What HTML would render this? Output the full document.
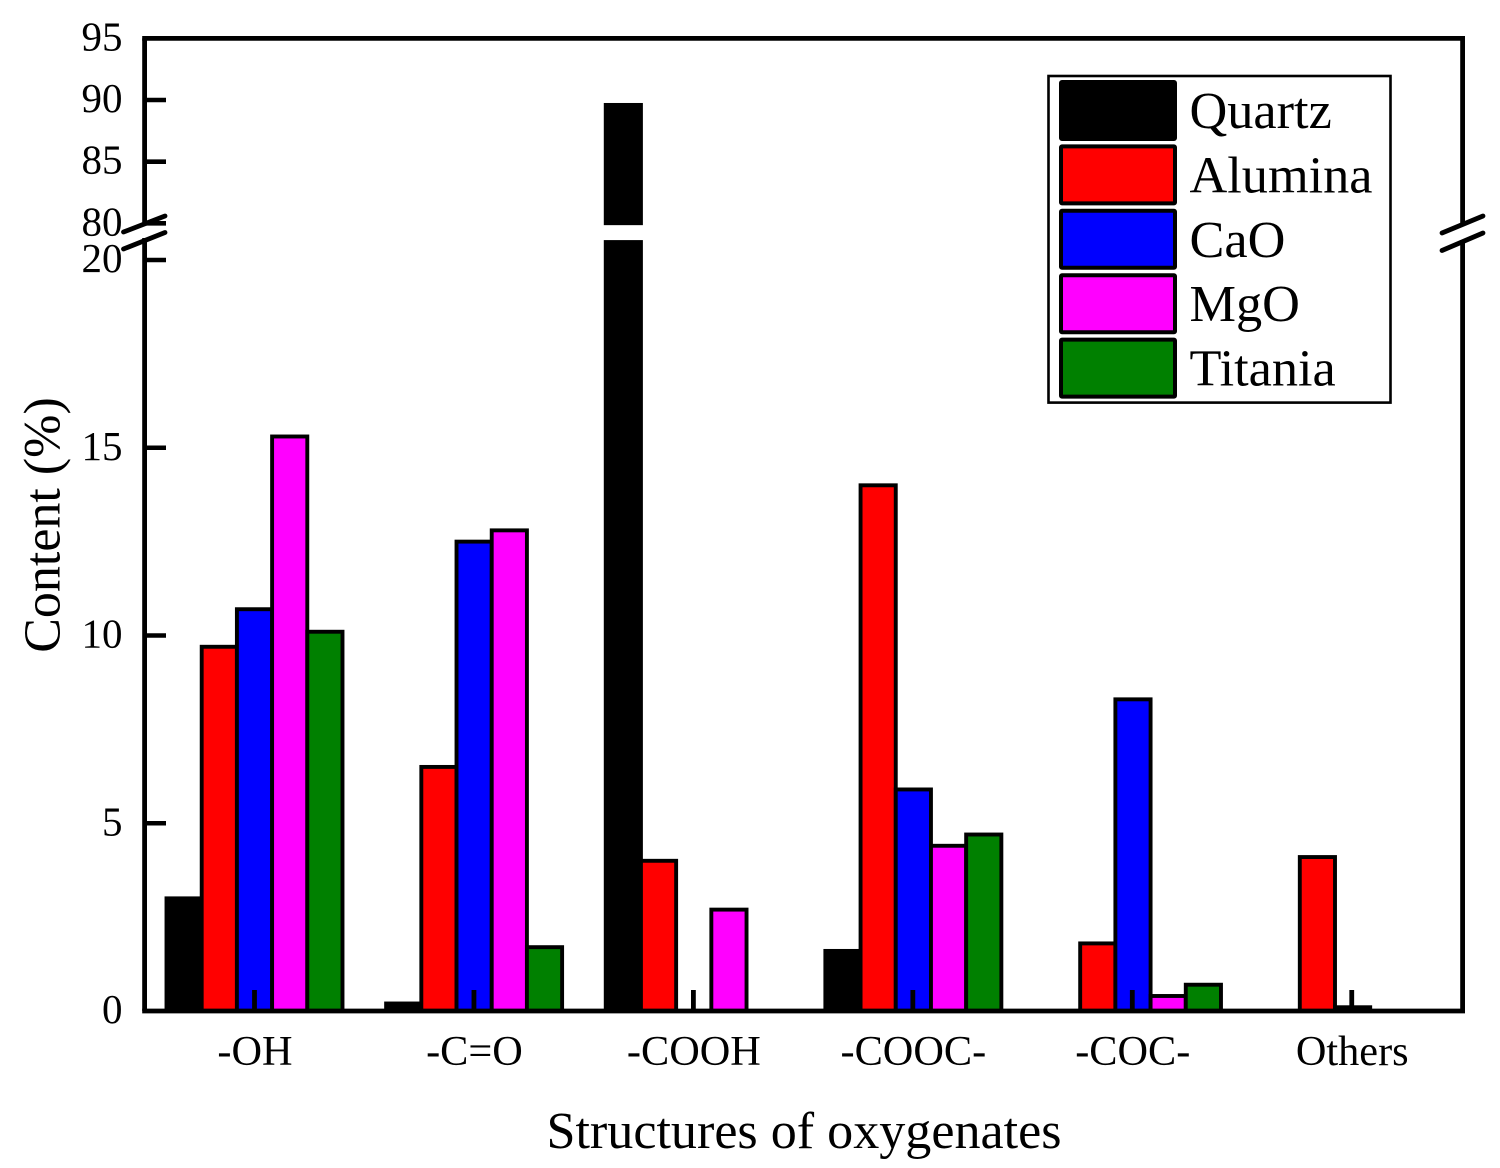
<!DOCTYPE html>
<html lang="en">
<head>
<meta charset="utf-8">
<title>Content of oxygenate structures by catalyst</title>
<style>
html,body{margin:0;padding:0;background:#fff;}
svg{display:block;}
text{font-family:"Liberation Serif",serif;fill:#000;}
</style>
</head>
<body>
<svg id="chart" xmlns="http://www.w3.org/2000/svg" width="1500" height="1168" viewBox="0 0 1500 1168"></svg>
<script>
const categories = ['-OH', '-C=O', '-COOH', '-COOC-', '-COC-', 'Others'];
const seriesNames = ['Quartz', 'Alumina', 'CaO', 'MgO', 'Titania'];
const seriesColors = ['#000000', '#ff0000', '#0000ff', '#ff00ff', '#008000'];
const quartz = [3.0, 0.2, 89.6, 1.6, 0, 0];
const alumina = [9.7, 6.5, 4.0, 14.0, 1.8, 4.1];
const cao = [10.7, 12.5, 0, 5.9, 8.3, 0.1];
const mgo = [15.3, 12.8, 2.7, 4.4, 0.4, 0];
const titania = [10.1, 1.7, 0, 4.7, 0.7, 0];
const lowerTicks = [0, 5, 10, 15, 20];
const upperTicks = [80, 85, 90, 95];
const breakLow = 20.53;
const breakHigh = 79.85;

const series = [quartz, alumina, cao, mgo, titania];
const NS = 'http://www.w3.org/2000/svg';
const svg = document.getElementById('chart');

function yScale(v) {
  if (v <= breakLow) return 1011 - v * 37.55;
  return 100 - (v - 90) * 12.33;
}
function xBand(i) { return 254.5 + i * 219.45; }
function xBar(i, s) { return 254.5 + i * 219.62 + (s - 2) * 35.2 - 17.6; }

function mk(tag, attrs, parent) {
  const el = document.createElementNS(NS, tag);
  for (const k in attrs) el.setAttribute(k, attrs[k]);
  (parent || svg).appendChild(el);
  return el;
}

const barsGroup = mk('g', {});


series.forEach(function (vals, s) {
  vals.forEach(function (v, i) {
    const x = xBar(i, s);
    const style = { width: 35.2, fill: seriesColors[s], stroke: '#000', 'stroke-width': 3.9 };
    const bottom = yScale(0);
    if (v <= breakLow) {
      const top = yScale(v);
      const bar = mk('rect', Object.assign({ x: x, y: top, height: bottom - top }, style), barsGroup);
      
      
    } else {
      const breakBottomY = yScale(breakLow);
      const breakTopY = yScale(breakHigh);
      const low = mk('rect', Object.assign({ x: x, y: breakBottomY + 1.95, height: bottom - breakBottomY - 1.95 }, style), barsGroup);
      
      
      const top = yScale(v);
      const high = mk('rect', Object.assign({ x: x, y: top, height: breakTopY - top - 1.95 }, style), barsGroup);
      
      
    }
  });
});

const axes = mk('g', { stroke: '#000', fill: 'none', 'stroke-width': 4.8 });



function line(x1, y1, x2, y2, name, w, cap) {
  const l = mk('line', { x1: x1, y1: y1, x2: x2, y2: y2 }, axes);
  if (w) l.setAttribute('stroke-width', w);
  if (cap) l.setAttribute('stroke-linecap', cap);
  
  
  return l;
}

const L = 144.6, R = 1462.6, T = 38.4, B = 1011;
line(L - 2.4, T, R + 2.4, T, 'top-axis-line');
line(L - 2.4, B, R + 2.4, B, 'x-axis-line');
line(L, T, L, 225, 'y-axis-upper-line');
line(L, 238, L, B, 'y-axis-lower-line');
line(R, T, R, 225, 'right-axis-upper-line');
line(R, 240, R, B, 'right-axis-lower-line');
line(123.5, 232, 165, 216, 'left-break-mark-upper', 4.8, 'round');
line(123.5, 249, 165, 232.5, 'left-break-mark-lower', 4.8, 'round');
line(1442, 233, 1483, 216, 'right-break-mark-upper', 4.8, 'round');
line(1442, 250.5, 1483, 233, 'right-break-mark-lower', 4.8, 'round');

function yText(v) {
  const t = mk('text', { x: 122.5, y: yScale(v) + 12, 'font-size': 41, 'text-anchor': 'end' });
  t.textContent = String(v);
  
  
}
lowerTicks.forEach(function (v) {
  if (v > 0) line(L, yScale(v), 166, yScale(v), 'y-tick-' + v, 4.6);
  yText(v);
});
upperTicks.forEach(function (v) {
  if (v < 95) line(L, yScale(v), 166, yScale(v), 'y-tick-' + v, 4.6);
  yText(v);
});

categories.forEach(function (c, i) {
  const x = xBand(i);
  line(x, B, x, 990, 'x-tick-' + i, 4.8);
  const t = mk('text', { x: x + 0.5, y: 1065, 'font-size': 42.3, 'text-anchor': 'middle' });
  t.textContent = c;
  
  
});

const legend = mk('g', {});


const frame = mk('rect', { x: 1048.5, y: 76, width: 342, height: 326.6, fill: '#fff', stroke: '#000', 'stroke-width': 2.6 }, legend);


seriesNames.forEach(function (n, s) {
  const top = 82 + s * 64.4;
  const sw = mk('rect', { x: 1061, y: top, width: 114, height: 57, fill: seriesColors[s], stroke: '#000', 'stroke-width': 4, rx: 1 }, legend);
  
  
  const t = mk('text', { x: 1189.5, y: 128 + s * 64.4, 'font-size': 52.3 }, legend);
  t.textContent = n;
  
  
});

const xTitle = mk('text', { x: 804, y: 1148, 'font-size': 52.1, 'text-anchor': 'middle' });
xTitle.textContent = 'Structures of oxygenates';



const yTitle = mk('text', { x: 0, y: 0, 'font-size': 52, 'text-anchor': 'middle', transform: 'translate(59.5 525) rotate(-90)' });
yTitle.textContent = 'Content (%)';


</script>
</body>
</html>
